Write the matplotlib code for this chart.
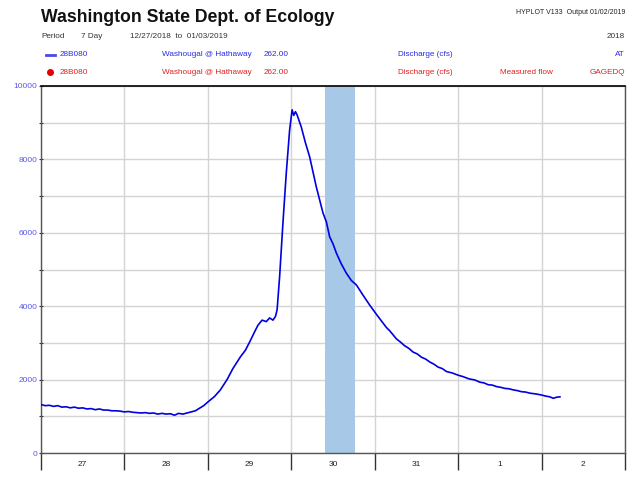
import matplotlib.pyplot as plt
from matplotlib.ticker import MultipleLocator, FixedLocator, NullFormatter

plt.rcParams['font.family'] = ['Liberation Sans', 'DejaVu Sans']

# time in days after 12/27/2018 00:00, discharge in cfs
t_days = [0.00, 0.05, 0.10, 0.15, 0.20, 0.25, 0.30, 0.35, 0.40, 0.45, 0.50, 0.55,
          0.60, 0.65, 0.70, 0.75, 0.80, 0.85, 0.90, 0.95, 1.00, 1.05, 1.10, 1.15,
          1.20, 1.25, 1.30, 1.35, 1.40, 1.45, 1.50, 1.55, 1.60, 1.65, 1.70, 1.75,
          1.80, 1.85, 1.90, 1.95, 2.00, 2.08, 2.15, 2.23, 2.30, 2.39, 2.45, 2.50,
          2.56, 2.60, 2.65, 2.70, 2.74, 2.78, 2.81, 2.83, 2.86, 2.90, 2.94, 2.98,
          3.01, 3.03, 3.05, 3.07, 3.12, 3.17, 3.22, 3.30, 3.38, 3.42, 3.46, 3.50,
          3.54, 3.60, 3.66, 3.72, 3.78, 3.86, 3.94, 4.02, 4.10, 4.14, 4.18, 4.26,
          4.31, 4.36, 4.41, 4.46, 4.51, 4.56, 4.61, 4.66, 4.71, 4.76, 4.81, 4.86,
          4.93, 5.00, 5.06, 5.13, 5.20, 5.26, 5.31, 5.36, 5.41, 5.46, 5.51, 5.56,
          5.61, 5.66, 5.71, 5.76, 5.81, 5.86, 5.93, 6.00, 6.05, 6.10, 6.14, 6.18,
          6.22]
discharge = [1320, 1290, 1300, 1270, 1290, 1250, 1260, 1230, 1250, 1220, 1230, 1200,
             1210, 1180, 1200, 1170, 1170, 1150, 1150, 1140, 1120, 1130, 1110, 1100,
             1090, 1100, 1080, 1090, 1060, 1080, 1060, 1070, 1030, 1080, 1060, 1090,
             1120, 1150, 1220, 1290, 1390, 1540, 1720, 2000, 2300, 2620, 2800, 3020,
             3300, 3480, 3620, 3580, 3680, 3620, 3720, 3900, 4800, 6270, 7630, 8800,
             9350, 9200, 9300, 9210, 8880, 8450, 8070, 7250, 6540, 6300, 5890, 5700,
             5450, 5150, 4900, 4700, 4580, 4300, 4030, 3780, 3540, 3420, 3330, 3110,
             3020, 2920, 2850, 2750, 2700, 2610, 2560, 2480, 2420, 2340, 2300, 2220,
             2180, 2120, 2080, 2020, 1990, 1930, 1910, 1860, 1850, 1810, 1790, 1760,
             1750, 1720, 1700, 1670, 1660, 1630, 1610, 1580, 1550, 1530, 1490, 1520,
             1530]

day_labels = ['27', '28', '29', '30', '31', '1', '2']
shade_start, shade_end = 3.40, 3.76

blue_txt = '#2b2be0'
red_txt = '#e02020'
fs = 5.9

fig = plt.figure(figsize=(6.4, 4.79), dpi=100)
ax = fig.add_axes([41 / 640, 1 - 453 / 479, 584 / 640, 367 / 479])

ax.axvspan(shade_start, shade_end, color='#a8c8e8', zorder=2, lw=0)
ax.plot(t_days, discharge, color='#0000e0', lw=1.2, zorder=3)

ax.set_xlim(0, 7)
ax.set_ylim(0, 10000)

ax.xaxis.set_major_locator(MultipleLocator(1))
ax.xaxis.set_major_formatter(NullFormatter())
ax.xaxis.set_minor_locator(FixedLocator([i + 0.5 for i in range(len(day_labels))]))
ax.set_xticklabels(day_labels, minor=True)
ax.tick_params(axis='x', which='major', length=12, width=1, color='#333333', direction='out')
ax.tick_params(axis='x', which='minor', length=0, pad=6, labelsize=6, labelcolor='#222222')

ax.yaxis.set_major_locator(MultipleLocator(2000))
ax.yaxis.set_minor_locator(MultipleLocator(1000))
ax.tick_params(axis='y', which='both', length=3, width=0.8, color='#333333',
               direction='inout', labelsize=6, labelcolor='#5a5ae8', pad=1)

ax.grid(True, which='major', axis='x', color='#d4d4d4', lw=1, zorder=1)
ax.grid(True, which='both', axis='y', color='#d4d4d4', lw=1, zorder=1)
ax.set_axisbelow(True)

for side in ['left', 'bottom', 'right']:
    ax.spines[side].set_color('#555555')
    ax.spines[side].set_linewidth(1)
ax.spines['top'].set_color('black')
ax.spines['top'].set_linewidth(1.2)

# header
fig.text(41 / 640, 1 - 17 / 479, 'Washington State Dept. of Ecology', fontsize=12.7,
         fontweight='bold', va='center', ha='left', color='#111111')
fig.text(625 / 640, 1 - 12 / 479, 'HYPLOT V133  Output 01/02/2019', fontsize=5,
         va='center', ha='right', color='#222222')

y1 = 1 - 37 / 479
fig.text(41 / 640, y1, 'Period', fontsize=fs, va='center', color='#333333')
fig.text(81 / 640, y1, '7 Day', fontsize=fs, va='center', color='#333333')
fig.text(130 / 640, y1, '12/27/2018  to  01/03/2019', fontsize=fs, va='center', color='#333333')
fig.text(625 / 640, y1, '2018', fontsize=fs, va='center', ha='right', color='#333333')

y2 = 1 - 55 / 479
fig.lines.append(plt.Line2D([46 / 640, 55 / 640], [y2, y2], transform=fig.transFigure,
                            color='#4a4ae8', lw=2))
fig.text(60 / 640, y2, '28B080', fontsize=fs, va='center', color=blue_txt)
fig.text(162 / 640, y2, 'Washougal @ Hathaway', fontsize=fs, va='center', color=blue_txt)
fig.text(264 / 640, y2, '262.00', fontsize=fs, va='center', color=blue_txt)
fig.text(398 / 640, y2, 'Discharge (cfs)', fontsize=fs, va='center', color=blue_txt)
fig.text(625 / 640, y2, 'AT', fontsize=fs, va='center', ha='right', color=blue_txt)

y3 = 1 - 72 / 479
fig.lines.append(plt.Line2D([50 / 640], [y3], transform=fig.transFigure, marker='o',
                            markersize=4, color='#e00000', lw=0))
fig.text(60 / 640, y3, '28B080', fontsize=fs, va='center', color=red_txt)
fig.text(162 / 640, y3, 'Washougal @ Hathaway', fontsize=fs, va='center', color=red_txt)
fig.text(264 / 640, y3, '262.00', fontsize=fs, va='center', color=red_txt)
fig.text(398 / 640, y3, 'Discharge (cfs)', fontsize=fs, va='center', color=red_txt)
fig.text(500 / 640, y3, 'Measured flow', fontsize=fs, va='center', color=red_txt)
fig.text(625 / 640, y3, 'GAGEDQ', fontsize=fs, va='center', ha='right', color=red_txt)

fig.savefig('out.png', dpi=100)
